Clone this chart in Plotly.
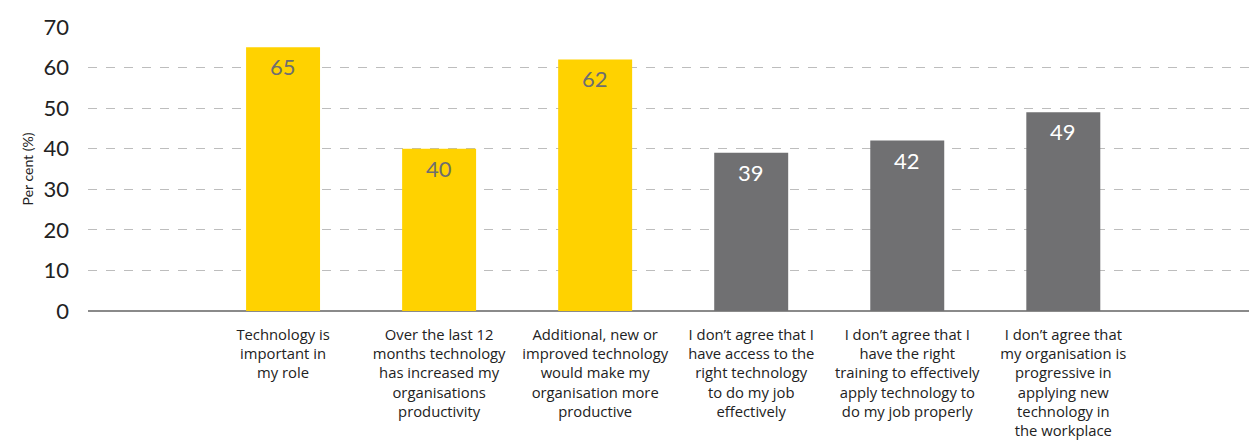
import plotly.graph_objects as go

# Survey responses (per cent)
categories = [
    "Technology is<br>important in<br>my role",
    "Over the last 12<br>months technology<br>has increased my<br>organisations<br>productivity",
    "Additional, new or<br>improved technology<br>would make my<br>organisation more<br>productive",
    "I don’t agree that I<br>have access to the<br>right technology<br>to do my job<br>effectively",
    "I don’t agree that I<br>have the right<br>training to effectively<br>apply technology to<br>do my job properly",
    "I don’t agree that<br>my organisation is<br>progressive in<br>applying new<br>technology in<br>the workplace",
]
values = [65, 40, 62, 39, 42, 49]
groups = ["agree", "agree", "agree", "disagree", "disagree", "disagree"]
y_ticks = [0, 10, 20, 30, 40, 50, 60, 70]

YELLOW = "#FFD200"
GREY = "#707072"
FONT = "Lato, 'Open Sans', sans-serif"
LABEL_FONT = "'Open Sans', Lato, sans-serif"

positions = list(range(len(categories)))
bar_colors = [YELLOW if g == "agree" else GREY for g in groups]
label_colors = ["#6e6e70" if g == "agree" else "#ffffff" for g in groups]

fig = go.Figure()
fig.add_trace(go.Bar(
    x=positions,
    y=values,
    width=0.474,
    marker=dict(color=bar_colors, line=dict(width=0)),
    hoverinfo="skip",
))

for xi, v, c in zip(positions, values, label_colors):
    fig.add_annotation(
        x=xi, y=v, text=str(v), showarrow=False,
        yanchor="top", yshift=-4,
        font=dict(family=FONT, size=22, color=c),
    )

fig.update_layout(
    width=1249, height=443,
    margin=dict(l=88, r=0, t=27, b=132),
    paper_bgcolor="white",
    plot_bgcolor="white",
    showlegend=False,
    font=dict(family=FONT, color="#222222"),
    xaxis=dict(
        range=[-1.25, 6.19],
        tickmode="array",
        tickvals=positions,
        ticktext=categories,
        tickfont=dict(family=LABEL_FONT, size=14.8, color="#222222"),
        showgrid=False,
        zeroline=False,
        showline=False,
        ticks="",
        ticklabelstandoff=13,
        fixedrange=True,
    ),
    yaxis=dict(
        range=[0, 70],
        tickmode="array",
        tickvals=y_ticks,
        tickfont=dict(family=FONT, size=22, color="#222222"),
        showgrid=True,
        gridcolor="#bdbdbd",
        griddash="dash",
        gridwidth=1,
        zeroline=True,
        zerolinecolor="#8a8a8a",
        zerolinewidth=1.5,
        ticks="",
        ticklabelstandoff=18,
        title=dict(text="Per cent (%)", font=dict(family=FONT, size=14, color="#222222"), standoff=6),
        fixedrange=True,
    ),
)

fig.write_html("out.html")
